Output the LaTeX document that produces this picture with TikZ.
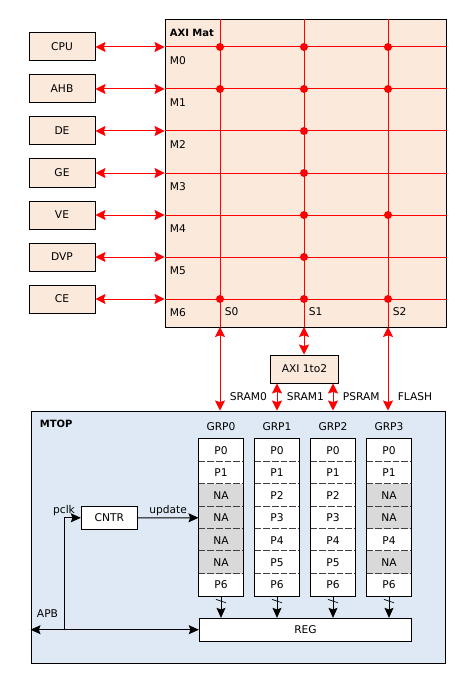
\documentclass[tikz,border=0pt]{standalone}
\usepackage{fontspec}
\setmainfont{DejaVu Sans}
\usetikzlibrary{arrows.meta}

\definecolor{peach}{RGB}{251,233,219}
\definecolor{mtopblue}{RGB}{222,233,245}
\definecolor{nagray}{RGB}{217,217,217}

\begin{document}
\begin{tikzpicture}[x=0.75pt,y=-0.75pt,line width=0.75pt,
    >={Stealth[length=7.5pt,width=6.75pt,inset=1.2pt]},
    lbl/.style={font=\fontsize{8pt}{9pt}\selectfont,inner sep=1pt},
    title/.style={font=\fontsize{7.5pt}{9pt}\selectfont\bfseries,inner sep=1pt},
    box/.style={draw,lbl,inner sep=0pt,minimum width=49.5pt,minimum height=21pt},
    bus/.style={red,>={Stealth[length=7.5pt,width=7.5pt,inset=1.2pt]}},
    dot/.style={circle,fill=red,inner sep=0pt,minimum size=6pt},
    cell/.style={lbl,inner sep=0pt,minimum width=33pt,minimum height=16.82pt},
    sep/.style={dash pattern=on 5pt off 1.5pt,black!75}]
  \useasboundingbox (0,0) rectangle (466,681);

  % AXI Mat
  \node[draw,fill=peach,minimum width=210.75pt,minimum height=230.25pt] (mat) at (305.5,173.5) {};
  \node[title,anchor=west] (matlbl) at (168,33) {AXI Mat};
  \foreach \s/\x in {0/220,1/304,2/388} % slave columns
  {
    \coordinate (s\s) at (\x,327);
    \draw[bus] (s\s |- mat.north) -- (s\s);
    \node[lbl,anchor=west] (sl\s) at (\x+3,312) {S\s};
  }
  \foreach \n [count=\i from 0] in {CPU,AHB,DE,GE,VE,DVP,CE} % masters
  {
    \node[box,fill=peach] (m\i) at (62,47+42*\i) {\n};
    \draw[bus] (m\i.east -| mat.west) -- (m\i.east -| mat.east);
    \draw[bus,<->] (m\i.east) -- (m\i.east -| mat.west);
    \node[lbl,anchor=west] (ml\i) at (168,61+42*\i) {M\i};
  }
  \foreach \i/\s in {0/0,0/1,0/2,1/0,1/1,1/2,2/1,3/1,4/1,4/2,5/1,6/0,6/1,6/2} % edit here for the connections
    \node[dot] (d\i\s) at (m\i -| s\s) {};

  % bridge
  \node[box,fill=peach,minimum width=51pt] (axi) at (304.5,369) {AXI 1to2};
  \draw[bus,<->] (s1) -- (s1 |- axi.north);

  % MTOP
  \node[draw,fill=mtopblue,minimum width=310.5pt,minimum height=189pt] (mtop) at (238,537) {};
  \node[title,anchor=west] (mtoplbl) at (38,424) {MTOP};
  \node[draw,fill=white,lbl,minimum width=159.3pt,minimum height=17pt] (reg) at (305.5,629.7) {REG};

  \foreach \g/\lst in {0/{P0/white,P1/white,NA/nagray,NA/nagray,NA/nagray,NA/nagray,P6/white},
                       1/{P0/white,P1/white,P2/white,P3/white,P4/white,P5/white,P6/white},
                       2/{P0/white,P1/white,P2/white,P3/white,P4/white,P5/white,P6/white},
                       3/{P0/white,P1/white,NA/nagray,NA/nagray,P4/white,NA/nagray,P6/white}} % edit here for the pages
  {
    \node[lbl] (grp\g) at (221+56*\g,427) {GRP\g};
    \foreach \t/\c [count=\r from 0] in \lst
      \node[cell,fill=\c] (g\g-\r) at (221+56*\g,450.5+22.43*\r) {\t};
    \foreach \r in {1,...,6}
      \draw[sep] (g\g-\r.north west) -- (g\g-\r.north east);
    \draw (g\g-0.north west) rectangle (g\g-6.south east);
    \draw[->] (g\g-6.south) -- (g\g-6.south |- reg.north);
    \draw[line width=0.5pt] ([shift={(-5,2.6)}]g\g-6.south) -- ++(10,3.4);
  }

  % memory ports
  \draw[bus,<->] (s0) -- (s0 |- mtop.north);
  \draw[bus,<->] (s2) -- (s2 |- mtop.north);
  \draw[bus,<->] (axi.south -| grp1) -- (grp1 |- mtop.north);
  \draw[bus,<->] (axi.south -| grp2) -- (grp2 |- mtop.north);
  \foreach \t/\x in {SRAM0/228,SRAM1/285,PSRAM/341,FLASH/396}
    \node[lbl,anchor=west] (b\t) at (\x,397) {\t};

  % counter and APB
  \node[draw,fill=white,lbl,minimum width=42pt,minimum height=17pt] (cntr) at (109.3,517.8) {CNTR};
  \draw[->] (cntr) -- (g0-3.west) node[lbl,midway,above=0.5pt] (upd) {update};
  \coordinate (tap) at (64,629.7);
  \draw[->] (tap) |- (cntr.west) node[lbl,pos=0.5,above=0.5pt] (pclk) {pclk};
  \draw[<->] (tap -| mtop.west) -- (reg.west);
  \node[lbl] (apb) at (47.5,613.5) {APB};
\end{tikzpicture}
\end{document}
